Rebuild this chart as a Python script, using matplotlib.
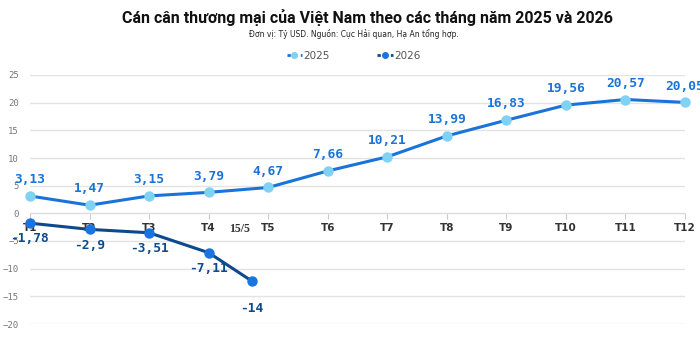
import matplotlib.pyplot as plt

months = ['T1', 'T2', 'T3', 'T4', 'T5', 'T6', 'T7', 'T8', 'T9', 'T10', 'T11', 'T12']
x_2025 = [1, 2, 3, 4, 5, 6, 7, 8, 9, 10, 11, 12]
val_2025 = [3.13, 1.47, 3.15, 3.79, 4.67, 7.66, 10.21, 13.99, 16.83, 19.56, 20.57, 20.05]
lab_2025 = ['3,13', '1,47', '3,15', '3,79', '4,67', '7,66', '10,21', '13,99', '16,83', '19,56', '20,57', '20,05']

# 2026: last point is mid-May (15/5)
x_2026 = [1, 2, 3, 4, 4.72]
val_2026 = [-1.78, -2.9, -3.51, -7.11, -12.2]
lab_2026 = ['-1,78', '-2,9', '-3,51', '-7,11', '-14']

c25_line = '#1a73d9'
c25_mark = '#80d2f5'
c26_line = '#0c4a8c'
c26_mark = '#1a73e0'

fig = plt.figure(figsize=(7, 3.55), dpi=100)
ax = fig.add_axes([30/700, 1 - 324/355, 655/700, 249/355])
for s in ['top', 'right', 'left']:
    ax.spines[s].set_visible(False)
ax.spines['bottom'].set_position(('data', 0))
ax.spines['bottom'].set_color('#dddddd')

ax.plot(x_2025, val_2025, color=c25_line, lw=2.2, marker='o', markersize=6.5,
        markerfacecolor=c25_mark, markeredgecolor=c25_mark, clip_on=False, zorder=3, label='2025')
ax.plot(x_2026, val_2026, color=c26_line, lw=2.2, marker='o', markersize=6.5,
        markerfacecolor=c26_mark, markeredgecolor=c26_mark, clip_on=False, zorder=3, label='2026')

mono = 'DejaVu Sans Mono'
for xi, v, t in zip(x_2025, val_2025, lab_2025):
    ax.annotate(t, (xi, v), xytext=(0, 7), textcoords='offset points', ha='center', va='bottom',
                fontsize=9.3, fontweight='bold', color=c25_line, family=mono, zorder=4)
offs = [-6, -7, -7, -7, -15]
for xi, v, t, o in zip(x_2026, val_2026, lab_2026, offs):
    ax.annotate(t, (xi, v), xytext=(0, o), textcoords='offset points', ha='center', va='top',
                fontsize=9.3, fontweight='bold', color=c26_line, family=mono, zorder=4)

ax.set_xlim(1, 12)
ax.set_ylim(-20, 25)
ax.set_yticks([-20, -15, -10, -5, 0, 5, 10, 15, 20, 25])
ax.set_xticks(x_2025)
ax.set_xticklabels(months)
ax.tick_params(axis='y', length=0, pad=8, labelsize=6.5, labelcolor='#777777')
ax.tick_params(axis='x', length=4, color='#cccccc', pad=3, labelsize=7.5, labelcolor='#333333')
for lbl in ax.get_yticklabels():
    lbl.set_family(mono)
for lbl in ax.get_xticklabels():
    lbl.set_fontweight('bold')
ax.grid(axis='y', color='#e3e3e3', lw=1)
ax.set_axisbelow(True)

ax.text(4.52, -1.75, '15/5', ha='center', va='top', fontsize=8.5,
        fontweight='bold', family='Liberation Serif', color='#333333')

fig.text(0.525, 0.95, 'Cán cân thương mại của Việt Nam theo các tháng năm 2025 và 2026',
         ha='center', va='center', fontsize=11.5, fontweight='bold', color='#111111', family='Roboto')
fig.text(0.506, 0.903, 'Đơn vị: Tỷ USD. Nguồn: Cục Hải quan, Hạ An tổng hợp.',
         ha='center', va='center', fontsize=5.5, color='#222222')

leg = fig.legend(loc='center', bbox_to_anchor=(0.505, 0.842), ncol=2, frameon=False,
                 fontsize=7.5, handlelength=1.5, columnspacing=4.6, handletextpad=0.1, labelcolor='#555555')
for h in leg.legend_handles:
    h.set_markersize(4)
    h.set_linewidth(2)
    h.set_linestyle((0, (1.2, 1.2)))

fig.savefig('out.png', dpi=100)
